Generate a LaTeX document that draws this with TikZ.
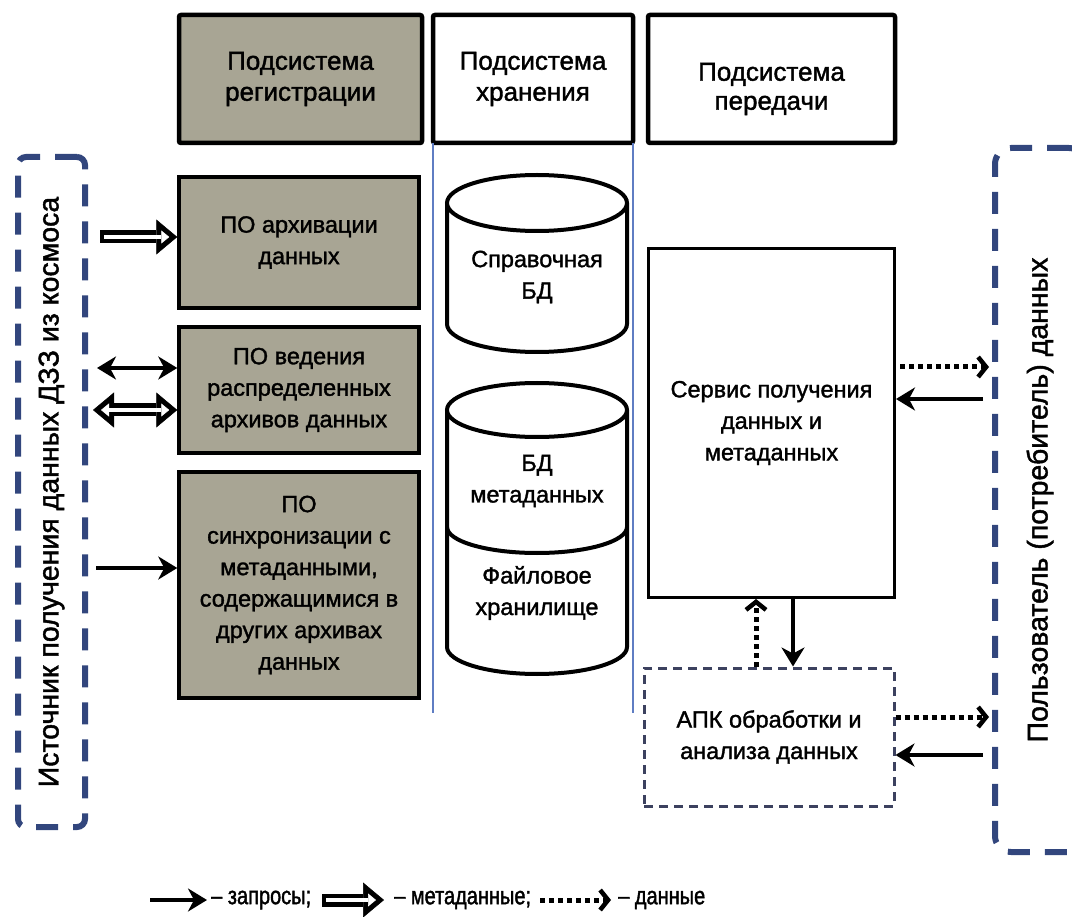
\documentclass[tikz,border=0pt]{standalone}
\usepackage{fontspec}
\setmainfont{Liberation Sans}[FakeBold=1.5]
\newfontfamily\legendfamily{Liberation Sans}[FakeStretch=0.8, FakeBold=1.5]
\usetikzlibrary{arrows.meta,calc}
\definecolor{boxgray}{RGB}{168,165,148}
\definecolor{dashblue}{RGB}{50,70,125}
\definecolor{thinblue}{RGB}{95,125,195}
\definecolor{apkdash}{RGB}{60,65,95}
\newcommand\hdrfont{\fontsize{26}{31}\selectfont}
\newcommand\bodyfont{\fontsize{23.5}{31.5}\selectfont}
\newcommand\sidefont{\fontsize{28.5}{32}\selectfont}
\newcommand\legfont{\legendfamily\fontsize{25}{28}\selectfont}
\begin{document}
\begin{tikzpicture}[x=1pt,y=-1pt,
  hdr/.style={draw=black, line width=4.5pt, rounded corners=2pt, outer sep=0pt,
    align=center, font=\hdrfont, inner sep=0pt},
  gbox/.style={draw=black, fill=boxgray, line width=3.5pt, align=center,
    font=\bodyfont, inner sep=0pt},
  wbox/.style={draw=black, line width=3pt, align=center, font=\bodyfont, inner sep=0pt},
  apkbox/.style={draw=apkdash, line width=3pt, dash pattern=on 9pt off 6pt,
    align=center, font=\bodyfont, inner sep=0pt},
  sidebox/.style={draw=dashblue, line width=6pt, dash pattern=on 22pt off 15pt,
    rounded corners=8pt, font=\sidefont, inner sep=0pt},
  cyl/.style={draw=black, line width=4pt, fill=white},
  celltext/.style={align=center, font=\bodyfont, inner sep=0pt},
  req/.style={line width=4pt, -{Stealth[length=19pt,width=23pt,inset=6pt]}},
  reqboth/.style={line width=4pt, {Stealth[length=19pt,width=23pt,inset=6pt]}-{Stealth[length=19pt,width=23pt,inset=6pt]}},
  meta/.style={line width=13pt, -{Triangle[length=21pt,width=35pt,line width'=0.5pt]},
    postaction={draw=white, line width=4.5pt, shorten <=4pt, shorten >=8pt,
      -{Triangle[length=8pt,width=13pt,line width'=0.5pt]}}},
  metaboth/.style={line width=13pt, {Triangle[length=21pt,width=35pt,line width'=0.5pt]}-{Triangle[length=21pt,width=35pt,line width'=0.5pt]},
    postaction={draw=white, line width=4.5pt, shorten <=8pt, shorten >=8pt,
      {Triangle[length=8pt,width=13pt,line width'=0.5pt]}-{Triangle[length=8pt,width=13pt,line width'=0.5pt]}}},
  dat/.style={line width=5pt, dash pattern=on 5pt off 4pt,
    -{Straight Barb[length=8pt,width=20pt,line width'=4.5pt]}},
  legtext/.style={font=\legfont, anchor=west, inner sep=0pt}
]
\useasboundingbox (0,0) rectangle (1072,917);
\clip (0,0) rectangle (1072,917);

% headers
\node[hdr, fill=boxgray, minimum width=243pt, minimum height=128pt] (h1) at (300.5,79) {Подсистема\\регистрации};
\node[hdr, minimum width=200pt, minimum height=128pt] (h2) at (533,79) {Подсистема\\хранения};
\node[hdr, minimum width=247pt, minimum height=128pt,
  label={[font=\fontsize{26}{29}\selectfont, align=center, inner sep=0pt, yshift=-10pt]center:{Подсистема\\передачи}}] (h3) at (771.5,79) {};

% thin separators
\draw[thinblue, line width=1.5pt] (h2.south west) -- (h2.south west |- 0,713);
\draw[thinblue, line width=1.5pt] (h2.south east) -- (h2.south east |- 0,713);

% registration boxes
\node[gbox, minimum width=240pt, minimum height=131pt] (arch) at (299,242.5) {ПО архивации\\данных};
\node[gbox, minimum width=240pt, minimum height=126pt] (ved) at (299,390) {ПО ведения\\распределенных\\архивов данных};
\node[gbox, minimum width=240pt, minimum height=226pt] (sync) at (299,585) {ПО\\синхронизации с\\метаданными,\\содержащимися в\\других архивах\\данных};

% source and user
\node[sidebox, minimum width=67pt, minimum height=670pt] (src) at (51.5,492) {\rotatebox{90}{Источник получения данных ДЗЗ из космоса}};
\node[sidebox, rounded corners=16pt, minimum width=90pt, minimum height=704pt] (user) at (1040,500) {\rotatebox{90}{Пользователь (потребитель) данных}};

% cylinders
\draw[cyl] (447,203) -- (447,324) arc[start angle=180, end angle=0, x radius=90, y radius=28] -- (627,203);
\draw[cyl] (537,203) ellipse[x radius=90, y radius=28];
\node[celltext] (spr) at (537,277) {Справочная\\БД};

\draw[cyl] (447,410) -- (447,647) arc[start angle=180, end angle=0, x radius=90, y radius=27] -- (627,410);
\draw[cyl] (537,410) ellipse[x radius=90, y radius=27];
\draw[black, line width=4pt] (447,527) arc[start angle=180, end angle=0, x radius=90, y radius=26];
\node[celltext] (mdb) at (537,481) {БД\\метаданных};
\node[celltext] (fst) at (537,593) {Файловое\\хранилище};

% transmission
\node[wbox, minimum width=246pt, minimum height=349pt] (serv) at (771.5,423) {Сервис получения\\данных и\\метаданных};
\node[apkbox, minimum width=250pt, minimum height=138pt] (apk) at (769,737) {АПК обработки и\\анализа данных};

% connectors left
\draw[meta] ([xshift=12pt]src.east |- 0,237) -- (arch.west |- 0,237);
\draw[reqboth] ([xshift=9pt]src.east |- 0,368) -- (ved.west |- 0,368);
\draw[metaboth] ([xshift=5pt]src.east |- 0,410) -- (ved.west |- 0,410);
\draw[req] ([xshift=8pt]src.east |- 0,568) -- (sync.west |- 0,568);

% connectors serv/apk
\draw[dat] (apk.north -| 756,0) -- (serv.south -| 756,0);
\draw[req] (serv.south -| 793,0) -- (apk.north -| 793,0);

% connectors right
\draw[dat, shorten <=4pt, shorten >=3pt] (serv.east |- 0,367) -- (user.west |- 0,367);
\draw[req] ([xshift=-9pt]user.west |- 0,399) -- (serv.east |- 0,399);
\draw[dat, shorten >=3pt] (apk.east |- 0,717) -- (user.west |- 0,717);
\draw[req] ([xshift=-9pt]user.west |- 0,755) -- (apk.east |- 0,755);

% legend
\coordinate (la1) at (150,900);
\coordinate (la2) at (207,900);
\node[legtext] (lt1) at (211,900) {– запросы;};
\coordinate (lb1) at (322,900);
\coordinate (lb2) at (384,900);
\node[legtext] (lt2) at (394,900) {– метаданные;};
\coordinate (lc1) at (540,900);
\coordinate (lc2) at (611,900);
\node[legtext] (lt3) at (618,900) {– данные};
\draw[req] (la1) -- (la2);
\draw[meta] (lb1) -- (lb2);
\draw[dat] (lc1) -- (lc2);
\end{tikzpicture}
\end{document}
